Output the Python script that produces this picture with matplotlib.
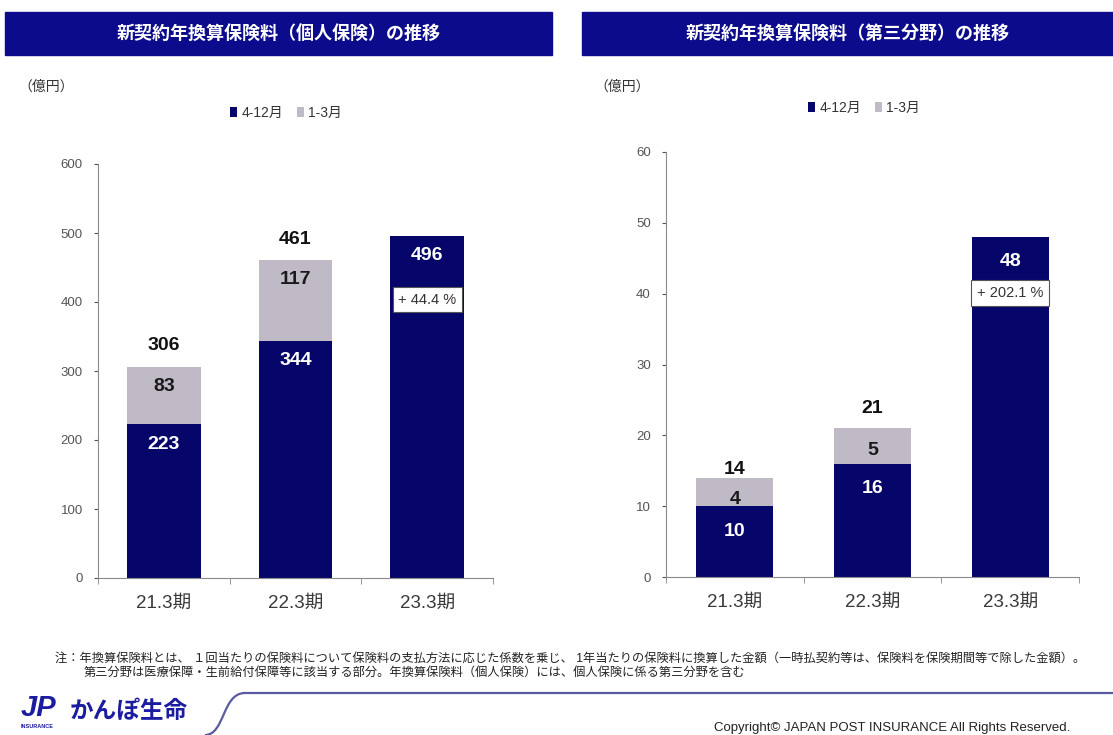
import matplotlib
matplotlib.use('Agg')
import matplotlib.pyplot as plt
from matplotlib.patches import Rectangle, PathPatch
from matplotlib.path import Path

plt.rcParams['font.family'] = ['Liberation Sans', 'Noto Sans CJK JP', 'DejaVu Sans']

# 期別の新契約年換算保険料（億円）
periods = ['21.3期', '22.3期', '23.3期']
kojin_apr_dec = [223, 344, 496]
kojin_jan_mar = [83, 117, 0]
kojin_total = [306, 461, 496]
daisan_apr_dec = [10, 16, 48]
daisan_jan_mar = [4, 5, 0]
daisan_total = [14, 21, 48]
kojin_growth = '+ 44.4 %'
daisan_growth = '+ 202.1 %'

NAVY = '#05056a'
GRAY = '#c0b9c6'
BAND = '#0b0b8c'

fig = plt.figure(figsize=(11.13, 7.35), dpi=100)

def px(v):
    # pixel -> points
    return v * 0.72

def panel(rect, dark, light, total, ymax, step, growth,
          dark_off, light_off, total_off, box_off, legend_xy):
    ax = fig.add_axes(rect)
    x = range(len(periods))
    b1 = ax.bar(x, dark, width=0.56, color=NAVY, label='4-12月')
    b2 = ax.bar(x, light, width=0.56, bottom=dark, color=GRAY, label='1-3月')
    ax.set_xlim(-0.5, len(periods) - 0.5)
    ax.set_ylim(0, ymax)
    ax.set_yticks(range(0, ymax + 1, step))
    ax.tick_params(axis='y', labelsize=9.5, colors='#555555', length=3, pad=8)
    ax.set_xticks(list(x))
    ax.set_xticklabels(periods, fontsize=13.5, color='#3a3a3a')
    ax.set_xticks([i - 0.5 for i in range(len(periods) + 1)], minor=True)
    ax.tick_params(axis='x', which='major', length=0, pad=12)
    ax.tick_params(axis='x', which='minor', length=4, color='#888888')
    for s in ['top', 'right']:
        ax.spines[s].set_visible(False)
    for s in ['left', 'bottom']:
        ax.spines[s].set_color('#8a8a8a')

    for i in x:
        ax.annotate(str(dark[i]), (i, dark[i] if light[i] else total[i]),
                    xytext=(0, -px(dark_off)), textcoords='offset points',
                    ha='center', va='center', fontsize=14, fontweight='bold',
                    color='white')
        if light[i]:
            ax.annotate(str(light[i]), (i, total[i]),
                        xytext=(0, -px(light_off[i])), textcoords='offset points',
                        ha='center', va='center', fontsize=14, fontweight='bold',
                        color='#1a1a1a')
            ax.annotate(str(total[i]), (i, total[i]),
                        xytext=(0, px(total_off[i])), textcoords='offset points',
                        ha='center', va='center', fontsize=14, fontweight='bold',
                        color='#111111')
    last = len(periods) - 1
    ax.annotate(growth, (last, total[last]), xytext=(0, -px(box_off)),
                textcoords='offset points', ha='center', va='center',
                fontsize=10.5, color='#333333',
                bbox=dict(boxstyle='square,pad=0.38', fc='white', ec='#555555', lw=0.8))

    fig.legend(handles=[b1, b2], loc='center', bbox_to_anchor=legend_xy, ncol=2,
               frameon=False, fontsize=10, handlelength=0.5, handleheight=0.7,
               handletextpad=0.3, columnspacing=1.0, labelcolor='#333333')
    return ax

panel([98 / 1113, 1 - 578 / 735, 395 / 1113, 414 / 735],
      kojin_apr_dec, kojin_jan_mar, kojin_total, 600, 100, kojin_growth,
      20, [20, 20, 0], [21, 20, 0], 64, (286 / 1113, 1 - 113 / 735))
panel([666 / 1113, 1 - 577 / 735, 413 / 1113, 425 / 735],
      daisan_apr_dec, daisan_jan_mar, daisan_total, 60, 10, daisan_growth,
      25, [22, 22, 0], [8, 20, 0], 56, (864 / 1113, 1 - 108 / 735))

# 見出しの帯
for x0, x1, title in [(5, 552, '新契約年換算保険料（個人保険）の推移'),
                      (582, 1113, '新契約年換算保険料（第三分野）の推移')]:
    fig.patches.append(Rectangle((x0 / 1113, 1 - 55 / 735), (x1 - x0) / 1113, 43 / 735,
                                 transform=fig.transFigure, color=BAND, zorder=0))
    fig.text((x0 + x1) / 2 / 1113, 1 - 34 / 735, title, ha='center', va='center',
             color='white', fontsize=13, fontweight='bold')

fig.text(18 / 1113, 1 - 87 / 735, '（億円）', fontsize=10, color='#333333', va='center')
fig.text(594 / 1113, 1 - 87 / 735, '（億円）', fontsize=10, color='#333333', va='center')

# 注記
fig.text(55 / 1113, 1 - 659 / 735,
         '注：年換算保険料とは、 １回当たりの保険料について保険料の支払方法に応じた係数を乗じ、 1年当たりの保険料に換算した金額（一時払契約等は、保険料を保険期間等で除した金額）。',
         fontsize=8.8, color='#222222', va='center')
fig.text(84 / 1113, 1 - 673 / 735,
         '第三分野は医療保障・生前給付保障等に該当する部分。年換算保険料（個人保険）には、個人保険に係る第三分野を含む',
         fontsize=8.8, color='#222222', va='center')

# フッター
verts = [(205, 735), (225, 735), (222, 693), (245, 693), (1113, 693)]
verts = [(a / 1113, 1 - b / 735) for a, b in verts]
codes = [Path.MOVETO, Path.CURVE4, Path.CURVE4, Path.CURVE4, Path.LINETO]
fig.patches.append(PathPatch(Path(verts, codes), transform=fig.transFigure,
                             fc='none', ec='#5a5aa0', lw=1.6))
fig.text(21 / 1113, 1 - 708 / 735, 'JP', fontsize=21, fontweight='bold',
         fontstyle='italic', color='#1c1ca0', va='center')
fig.text(21 / 1113, 1 - 726 / 735, 'INSURANCE', fontsize=4, fontweight='bold',
         color='#1c1ca0', va='center')
fig.text(70 / 1113, 1 - 711 / 735, 'かんぽ生命', fontsize=17, fontweight='bold',
         color='#1c1ca0', va='center')
fig.text(1070 / 1113, 1 - 728 / 735,
         'Copyright© JAPAN POST INSURANCE All Rights Reserved.',
         fontsize=9.5, color='#222222', ha='right', va='center')

fig.savefig('out.png', dpi=100)
